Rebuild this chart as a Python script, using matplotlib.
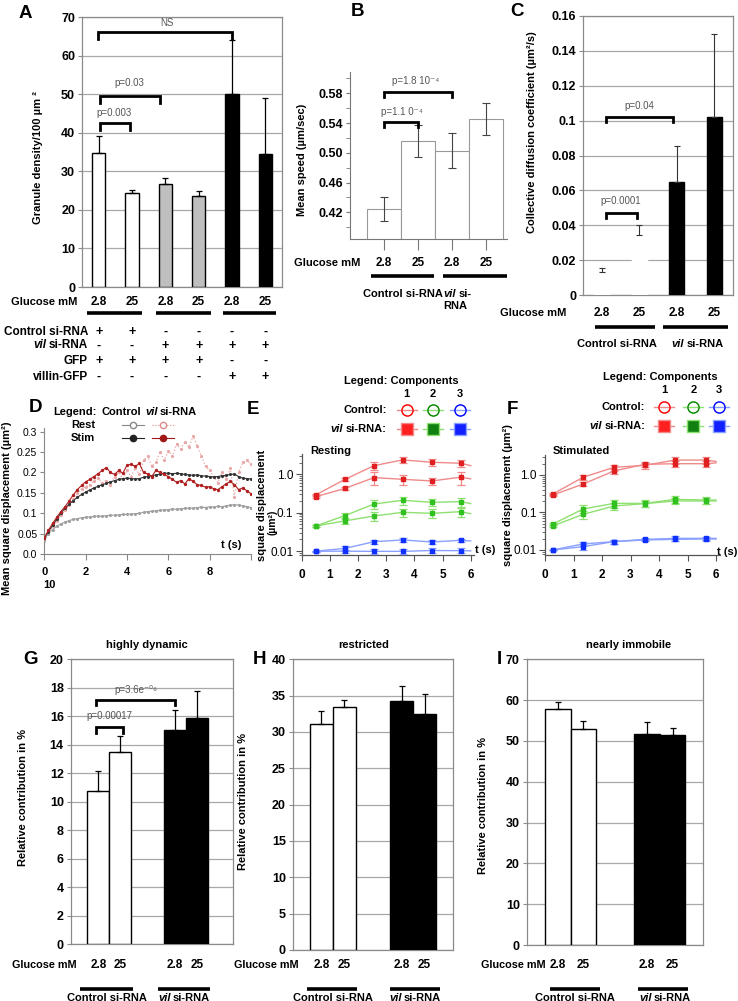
import matplotlib
matplotlib.use('Agg')
import matplotlib.pyplot as plt
import numpy as np
from matplotlib.lines import Line2D
from matplotlib.transforms import blended_transform_factory

plt.rcParams['font.family'] = ['Liberation Sans', 'DejaVu Sans']

W, H = 738, 1001

# ---------------- data ----------------
# A: granule density
a_vals = [34.8, 24.5, 26.6, 23.5, 50.1, 34.4]
a_err = [4.4, 0.7, 1.7, 1.5, 14.0, 14.6]
a_colors = ['white', 'white', '#bfbfbf', '#bfbfbf', 'black', 'black']
a_gluc = ['2.8', '25', '2.8', '25', '2.8', '25']
a_rows = ['Control si-RNA', 'vil si-RNA', 'GFP', 'villin-GFP']
a_signs = [['+', '+', '-', '-', '-', '-'],
           ['-', '-', '+', '+', '+', '+'],
           ['+', '+', '+', '+', '-', '-'],
           ['-', '-', '-', '-', '+', '+']]

# B: mean speed
b_vals = [0.4244, 0.516, 0.503, 0.5454]
b_err = [0.0165, 0.022, 0.0235, 0.0218]
b_gluc = ['2.8', '25', '2.8', '25']

# C: collective diffusion coefficient
c_vals = [0.0134, 0.0344, 0.065, 0.1019]
c_err = [0.0019, 0.0057, 0.0205, 0.0476]
c_colors = ['white', 'white', 'black', 'black']
c_gluc = ['2.8', '25', '2.8', '25']

# D: mean square displacement vs time
t_d = np.arange(0, 10.01, 0.2)
d_ctrl_rest = [0.035, 0.05, 0.06, 0.068, 0.074, 0.078, 0.082, 0.085, 0.087, 0.089,
               0.09, 0.091, 0.092, 0.093, 0.093, 0.094, 0.095, 0.095, 0.096, 0.097,
               0.097, 0.098, 0.099, 0.1, 0.102, 0.104, 0.105, 0.106, 0.107, 0.108,
               0.109, 0.11, 0.11, 0.111, 0.112, 0.113, 0.112, 0.114, 0.115, 0.114,
               0.116, 0.115, 0.117, 0.116, 0.118, 0.12, 0.121, 0.12, 0.118, 0.116, 0.114]
d_ctrl_stim = [0.04, 0.055, 0.07, 0.085, 0.1, 0.112, 0.122, 0.131, 0.139, 0.146,
               0.152, 0.157, 0.162, 0.166, 0.17, 0.173, 0.177, 0.18, 0.183, 0.185,
               0.186, 0.185, 0.184, 0.185, 0.188, 0.19, 0.192, 0.194, 0.196, 0.198,
               0.198, 0.197, 0.198, 0.197, 0.195, 0.194, 0.193, 0.194, 0.192, 0.191,
               0.19, 0.189, 0.19, 0.192, 0.193, 0.195, 0.196, 0.19, 0.186, 0.185, 0.184]
d_vil_stim = [0.04, 0.058, 0.075, 0.09, 0.104, 0.116, 0.13, 0.145, 0.158, 0.168,
              0.177, 0.183, 0.19, 0.197, 0.205, 0.212, 0.2, 0.195, 0.205, 0.198,
              0.218, 0.22, 0.215, 0.222, 0.2, 0.196, 0.19, 0.205, 0.2, 0.195,
              0.19, 0.183, 0.176, 0.18, 0.172, 0.185, 0.178, 0.17, 0.168, 0.164,
              0.165, 0.16, 0.158, 0.165, 0.172, 0.178, 0.17, 0.158, 0.162, 0.155, 0.148]
d_vil_rest = [0.033, 0.05, 0.068, 0.082, 0.095, 0.108, 0.12, 0.135, 0.15, 0.16,
              0.165, 0.17, 0.18, 0.186, 0.175, 0.18, 0.17, 0.19, 0.2, 0.185,
              0.205, 0.19, 0.21, 0.195, 0.23, 0.24, 0.215, 0.225, 0.25, 0.23,
              0.252, 0.24, 0.27, 0.258, 0.275, 0.262, 0.29, 0.265, 0.24, 0.215,
              0.205, 0.19, 0.175, 0.2, 0.185, 0.21, 0.14, 0.2, 0.225, 0.23, 0.22]

# E: resting components (control / vil si-RNA), last value = line end at t=6
e_t = [0.5, 1.54, 2.57, 3.59, 4.62, 5.64, 6.0]
e_red_a = [0.29, 0.74, 1.68, 2.37, 2.06, 1.94, 1.68]
e_red_b = [0.26, 0.43, 0.82, 0.74, 0.67, 0.84, 0.76]
e_grn_a = [0.045, 0.084, 0.168, 0.21, 0.186, 0.194, 0.172]
e_grn_b = [0.045, 0.061, 0.082, 0.102, 0.096, 0.106, 0.094]
e_blu_a = [0.0099, 0.0117, 0.0175, 0.0194, 0.0172, 0.019, 0.0183]
e_blu_b = [0.0099, 0.0099, 0.0098, 0.0098, 0.0103, 0.0102, 0.0101]
e_red_a_err = [0.02, 0.08, 0.35, 0.45, 0.45, 0.4]
e_red_b_err = [0.02, 0.05, 0.3, 0.2, 0.15, 0.3]
e_grn_a_err = [0.003, 0.015, 0.04, 0.05, 0.04, 0.05]
e_grn_b_err = [0.003, 0.01, 0.02, 0.025, 0.025, 0.03]
e_blu_a_err = [0.0004, 0.0015, 0.002, 0.002, 0.002, 0.002]
e_blu_b_err = [0.0004, 0.0008, 0.0015, 0.0015, 0.0015, 0.0015]

# F: stimulated components
f_t = [0.27, 1.34, 2.42, 3.5, 4.56, 5.64, 6.0]
f_red_a = [0.31, 0.87, 1.6, 1.8, 2.5, 2.5, 2.3]
f_red_b = [0.29, 0.575, 1.28, 1.92, 2.0, 2.0, 2.1]
f_grn_a = [0.049, 0.124, 0.175, 0.175, 0.224, 0.215, 0.215]
f_grn_b = [0.0437, 0.089, 0.149, 0.172, 0.203, 0.203, 0.203]
f_blu_a = [0.01, 0.0145, 0.0167, 0.0192, 0.0204, 0.0204, 0.0204]
f_blu_b = [0.01, 0.0123, 0.0167, 0.0185, 0.0192, 0.0197, 0.0197]
f_red_a_err = [0.02, 0.15, 0.3, 0.35, 0.5, 0.5]
f_red_b_err = [0.02, 0.06, 0.2, 0.3, 0.4, 0.4]
f_grn_a_err = [0.004, 0.03, 0.04, 0.035, 0.045, 0.045]
f_grn_b_err = [0.003, 0.02, 0.03, 0.03, 0.035, 0.035]
f_blu_a_err = [0.0003, 0.002, 0.002, 0.002, 0.0025, 0.002]
f_blu_b_err = [0.0003, 0.002, 0.002, 0.0015, 0.002, 0.002]

# G, H, I: relative contribution of mobility classes
ghi_pos = [0, 1, 3.5, 4.5]
ghi_colors = ['white', 'white', 'black', 'black']
ghi_gluc = ['2.8', '25', '2.8', '25']
g_vals = [10.77, 13.52, 15.04, 15.91]
g_err = [1.41, 1.12, 1.41, 1.87]
h_vals = [31.1, 33.39, 34.27, 32.48]
h_err = [1.84, 1.01, 2.06, 2.7]
i_vals = [57.83, 52.85, 51.7, 51.55]
i_err = [1.77, 2.05, 2.9, 1.72]

# ---------------- helpers ----------------
fig = plt.figure(figsize=(W / 100, H / 100), dpi=100)
renderer = fig.canvas.get_renderer()


def px_ax(x0, y0, x1, y1):
    return fig.add_axes([x0 / W, 1 - y1 / H, (x1 - x0) / W, (y1 - y0) / H])


def ftext(x, y, s, **kw):
    kw.setdefault('va', 'center')
    return fig.text(x / W, 1 - y / H, s, **kw)


def fline(x0, x1, y, lw=2.6):
    fig.add_artist(Line2D([x0 / W, x1 / W], [1 - y / H, 1 - y / H], transform=fig.transFigure,
                          color='k', lw=lw, solid_capstyle='butt'))


def rich(x, y, parts, ha='left', size=8, gap=2.5):
    objs = [ftext(0, y, s, fontsize=size, fontweight='bold', fontstyle=st, ha='left') for s, st in parts]
    widths = [o.get_window_extent(renderer).width for o in objs]
    total = sum(widths) + gap * (len(objs) - 1)
    x0 = x - {'left': 0, 'center': total / 2, 'right': total}[ha]
    for o, w in zip(objs, widths):
        o.set_x(x0 / W)
        x0 += w + gap


def vil(x, y, ha='center', size=8, tail=' si-RNA'):
    rich(x, y, [('vil', 'italic'), (tail.strip(), 'normal')], ha=ha, size=size)


def under(ax, xs, labels, y, size=8.5):
    tr = blended_transform_factory(ax.transData, fig.transFigure)
    for x, s in zip(xs, labels):
        ax.text(x, 1 - y / H, s, transform=tr, ha='center', va='center',
                fontsize=size, fontweight='bold')


def bracket(ax, x0, x1, y, drop, label, ty, tx, color='#555555', size=7):
    ax.plot([x0, x0, x1, x1], [y - drop, y, y, y - drop], color='k', lw=2.0,
            solid_joinstyle='miter', clip_on=False, zorder=5)
    ax.text(tx, ty, label, ha='center', va='center', fontsize=size, color=color, zorder=6)


def excel_axes(ax, ylim, step, fmt, xlim, tsize=9):
    ax.set_axisbelow(True)
    ax.yaxis.grid(True, color='#a8a8a8', lw=0.9)
    ax.set_ylim(*ylim)
    ax.set_xlim(*xlim)
    ticks = np.arange(ylim[0], ylim[1] + step / 2, step)
    ax.set_yticks(ticks)
    ax.set_yticklabels([fmt(v) for v in ticks], fontsize=tsize, fontweight='bold')
    ax.set_xticks([])
    for sp in ax.spines.values():
        sp.set_color('#8a8a8a')
        sp.set_linewidth(0.9)
    ax.tick_params(axis='y', length=3, width=0.8, color='#8a8a8a', pad=2)


def ylab(x, y, s, size=8):
    ftext(x, y, s, rotation=90, ha='center', fontsize=size, fontweight='bold')


# ---------------- A ----------------
ax = px_ax(82, 17, 282, 287)
xa = np.arange(len(a_vals))
excel_axes(ax, (0, 70), 10, lambda v: '%d' % v, (-0.5, 5.5))
ax.bar(xa, a_vals, 0.4, color=a_colors, edgecolor='k', lw=1, zorder=3)
ax.errorbar(xa, a_vals, yerr=[np.zeros(6), a_err], fmt='none', ecolor='k',
            elinewidth=0.9, capsize=2.5, capthick=0.9, zorder=4)
bracket(ax, 0.03, 0.94, 42.6, 2.0, 'p=0.003', 45.1, 0.46)
bracket(ax, 0.03, 1.85, 49.5, 1.8, 'p=0.03', 52.9, 0.92)
bracket(ax, -0.02, 4.0, 66.1, 1.8, 'NS', 68.4, 2.06)
under(ax, xa, a_gluc, 302)
tr = blended_transform_factory(ax.transData, fig.transFigure)
row_y = [332, 345.5, 361, 377]
for r, (lab, signs) in enumerate(zip(a_rows, a_signs)):
    if lab.startswith('vil '):
        vil(88, row_y[r], ha='right', size=8.5)
    else:
        ftext(88, row_y[r], lab, ha='right', fontsize=8.5, fontweight='bold')
    for x, s in zip(xa, signs):
        ax.text(x, 1 - row_y[r] / H, s, transform=tr, ha='center', va='center',
                fontsize=9, fontweight='bold')
ftext(77, 302, 'Glucose mM', ha='right', fontsize=8, fontweight='bold')
for x0, x1 in [(87.3, 141.7), (156, 210.7), (222.7, 275.7)]:
    fline(x0, x1, 313)
ylab(38, 158, 'Granule density/100 µm ²')
ftext(25, 13, 'A', ha='center', fontsize=13.5, fontweight='bold')

# ---------------- B ----------------
ax = px_ax(350, 71.7, 506.7, 239.3)
xb = np.arange(len(b_vals))
ax.bar(xb, b_vals, 1.0, color='white', edgecolor='#999999', lw=0.8, zorder=2)
ax.errorbar(xb, b_vals, yerr=b_err, fmt='none', ecolor='#444444', elinewidth=0.8,
            capsize=3, capthick=0.8, zorder=3)
ax.set_xlim(-0.99, 3.6)
ax.set_ylim(0.3837, 0.609)
ax.set_yticks([0.42, 0.46, 0.50, 0.54, 0.58])
ax.set_yticklabels(['0.42', '0.46', '0.50', '0.54', '0.58'], fontsize=9, fontweight='bold')
ax.set_yticks([0.40, 0.44, 0.48, 0.52, 0.56, 0.60], minor=True)
ax.set_xticks(xb)
ax.set_xticklabels([])
for s in ['top', 'right']:
    ax.spines[s].set_visible(False)
for s in ['left', 'bottom']:
    ax.spines[s].set_color('#777777')
    ax.spines[s].set_linewidth(0.8)
ax.tick_params(axis='y', which='both', length=3, color='#777777', pad=2)
ax.tick_params(axis='x', length=8, color='#777777', direction='out')
bracket(ax, 0, 1, 0.5418, 0.0067, 'p=1.1 0⁻⁴', 0.5553, 0.52)
bracket(ax, 0, 2, 0.5822, 0.0068, 'p=1.8 10⁻⁴', 0.5965, 0.93)
under(ax, xb, b_gluc, 263)
ftext(360, 263, 'Glucose mM', ha='right', fontsize=8, fontweight='bold')
fline(371, 434.3, 276)
fline(443.3, 506.7, 276)
ftext(403.3, 294, 'Control si-RNA', ha='center', fontsize=8, fontweight='bold')
vil(443.3, 294, ha='left', tail='si-')
ftext(443.3, 306, 'RNA', ha='left', fontsize=8, fontweight='bold')
ylab(301.7, 160, 'Mean speed (µm/sec)')
ftext(358, 12, 'B', ha='center', fontsize=13.5, fontweight='bold')

# ---------------- C ----------------
ax = px_ax(583, 16, 733, 295)
xc = np.arange(len(c_vals))
excel_axes(ax, (0, 0.16), 0.02, lambda v: ('%.2f' % v).rstrip('0').rstrip('.') if v else '0',
           (-0.5, 3.5))
ax.bar(xc, c_vals, 0.4, color=c_colors, edgecolor=c_colors, lw=1, zorder=3)
ax.errorbar(xc, c_vals, yerr=[np.zeros(4), c_err], fmt='none', ecolor='#333333',
            elinewidth=0.8, capsize=2.5, capthick=0.8, zorder=4)
bracket(ax, 0.1, 0.93, 0.0468, 0.0028, 'p=0.0001', 0.0539, 0.5)
bracket(ax, 0.1, 1.9, 0.1023, 0.0029, 'p=0.04', 0.1084, 0.99)
under(ax, xc, c_gluc, 313)
ftext(566.7, 313, 'Glucose mM', ha='right', fontsize=8, fontweight='bold')
fline(595, 655, 326.7)
fline(663.3, 728.3, 326.7)
ftext(617, 344, 'Control si-RNA', ha='center', fontsize=8, fontweight='bold')
vil(697.5, 344)
ylab(531.7, 132, 'Collective diffusion coefficient (µm²/s)')
ftext(517, 11, 'C', ha='center', fontsize=13.5, fontweight='bold')

# ---------------- D ----------------
ax = px_ax(44.3, 427.6, 251, 554)
ax.plot(t_d, d_vil_rest, ls=':', color='#e8a6a6', lw=0.9, marker='.', ms=2.5, zorder=2)
ax.plot(t_d, d_ctrl_rest, color='#a0a0a0', lw=0.8, marker='.', ms=2.5, zorder=3)
ax.plot(t_d, d_ctrl_stim, color='#333333', lw=0.8, marker='.', ms=2.5, zorder=4)
ax.plot(t_d, d_vil_stim, color='#b02020', lw=0.8, marker='.', ms=2.8, zorder=5)
ax.set_xlim(0, 10)
ax.set_ylim(0, 0.31)
ax.set_yticks([0, 0.05, 0.1, 0.15, 0.2, 0.25, 0.3])
ax.set_yticklabels(['0.0', '0.05', '0.1', '0.15', '0.2', '0.25', '0.3'], fontsize=7.5)
ax.set_xticks([0, 2, 4, 6, 8, 10])
ax.set_xticklabels(['0', '2', '4', '6', '8', ''], fontsize=8, fontweight='bold')
for s in ['top', 'right']:
    ax.spines[s].set_visible(False)
for s in ['left', 'bottom']:
    ax.spines[s].set_color('#888888')
ax.tick_params(axis='y', length=3, color='#888888', pad=2)
ax.tick_params(axis='x', length=4.3, color='#888888', pad=5)
ftext(231, 545, 't (s)', ha='center', fontsize=8, fontweight='bold')
ftext(43, 585, '10', ha='left', fontsize=8, fontweight='bold')
ylab(7, 508, 'Mean square displacement (µm²)')
ftext(53, 412, 'Legend:', ha='left', fontsize=8, fontweight='bold')
ftext(101.7, 412, 'Control', ha='left', fontsize=8, fontweight='bold')
vil(145, 412, ha='left')
ftext(95, 425, 'Rest', ha='right', fontsize=8, fontweight='bold')
ftext(95, 438.3, 'Stim', ha='right', fontsize=8, fontweight='bold')


def fmark(xc, y, half, color, marker, mfc, ls='-', ms=4.5, lw=0.8):
    fig.add_artist(Line2D([(xc - half) / W, xc / W, (xc + half) / W], [1 - y / H] * 3,
                          transform=fig.transFigure, color=color, ls=ls, lw=lw,
                          marker=marker, markevery=[1], mfc=mfc, mec=color, ms=ms))


fmark(132.7, 425, 11, '#888888', 'o', 'white')
fmark(162.7, 425, 11, '#e08a8a', 'o', 'white', ls=':')
fmark(132.7, 438.3, 11, '#222222', 'o', '#222222')
fmark(162.7, 438.3, 11, '#a01818', 'o', '#a01818')
ftext(35, 408, 'D', ha='center', fontsize=13.5, fontweight='bold')

# ---------------- E, F ----------------
comp_line = ['#f08a8a', '#8ee070', '#8aa0ff']
comp_mark = ['#e02020', '#30c020', '#1030ff']
comp_legend = ['red', 'green', 'blue']
legend_face = ['#ff2020', '#108010', '#1020ff']


def comp_panel(ax, t, series, errs):
    for k, (vals, err) in enumerate(zip(series, errs)):
        c = k // 2
        ax.plot(t, vals, color=comp_line[c], lw=1.0, zorder=2)
        ax.errorbar(t[:6], vals[:6], yerr=err, fmt='s', ms=2.2, color=comp_mark[c],
                    ecolor=comp_line[c], elinewidth=0.9, capsize=3, capthick=0.9, zorder=3)
    ax.set_yscale('log')
    ax.set_xlim(0, 6.1)
    ax.set_xticks(range(7))
    ax.set_xticklabels([str(v) for v in range(7)], fontsize=8.5, fontweight='bold')
    ax.set_yticks([0.01, 0.1, 1.0])
    ax.set_yticklabels(['0.01', '0.1', '1.0'], fontsize=8.5)
    for s in ['top', 'right']:
        ax.spines[s].set_visible(False)
    for s in ['left', 'bottom']:
        ax.spines[s].set_color('#555555')
        ax.spines[s].set_linewidth(0.9)
    ax.tick_params(axis='y', which='major', length=4, color='#555555', pad=2)
    ax.tick_params(axis='y', which='minor', length=2, color='#555555')
    ax.tick_params(axis='x', length=4, color='#555555', pad=6)


def comp_legend_draw(xcenter, y0, xs, xr):
    ftext(xcenter, y0, 'Legend: Components', ha='center', fontsize=8, fontweight='bold')
    for n, x in enumerate(xs):
        ftext(x, y0 + 13, str(n + 1), ha='center', fontsize=8, fontweight='bold')
        fmark(x, y0 + 29.5, 10, comp_line[n], 'o', 'none', ms=8, lw=1.0)
        fig.add_artist(Line2D([x / W], [1 - (y0 + 29.5) / H], transform=fig.transFigure,
                              marker='o', ms=8, mfc='none', mec=comp_legend[n], mew=0.9))
        fmark(x, y0 + 48.5, 10, comp_line[n], 's', legend_face[n], ms=8, lw=1.0)
    ftext(xr, y0 + 29.5, 'Control:', ha='right', fontsize=8, fontweight='bold')
    rich(xr, y0 + 48.5, [('vil', 'italic'), ('si-RNA:', 'normal')], ha='right', size=8)


ax = px_ax(301.7, 454, 473.5, 555)
comp_panel(ax, e_t, [e_red_a, e_red_b, e_grn_a, e_grn_b, e_blu_a, e_blu_b],
           [e_red_a_err, e_red_b_err, e_grn_a_err, e_grn_b_err, e_blu_a_err, e_blu_b_err])
ax.set_ylim(0.00787, 3.38)
ftext(310, 451, 'Resting', ha='left', fontsize=8, fontweight='bold')
ftext(475, 550, 't (s)', ha='left', fontsize=8, fontweight='bold')
ylab(261.7, 505, 'square displacement')
ylab(272, 522, '(µm²)', size=7.5)
comp_legend_draw(401.7, 380.7, [406.7, 432.7, 460], 386.7)
ftext(253, 410, 'E', ha='center', fontsize=13.5, fontweight='bold')

ax = px_ax(545, 455, 720, 555)
comp_panel(ax, f_t, [f_red_a, f_red_b, f_grn_a, f_grn_b, f_blu_a, f_blu_b],
           [f_red_a_err, f_red_b_err, f_grn_a_err, f_grn_b_err, f_blu_a_err, f_blu_b_err])
ax.set_xlim(0, 6.14)
ax.set_ylim(0.00735, 3.41)
ftext(553, 451, 'Stimulated', ha='left', fontsize=8, fontweight='bold')
ftext(717.3, 551.7, 't (s)', ha='left', fontsize=8, fontweight='bold')
ylab(508.3, 495, 'square displacement (µm²)')
comp_legend_draw(660, 377.3, [664.3, 693.3, 719.3], 645)
ftext(512, 410, 'F', ha='center', fontsize=13.5, fontweight='bold')

# ---------------- G, H, I ----------------
ghi = [
    ('G', (70.7, 659.3, 233.3, 944.3), (-1.26, 6.15), g_vals, g_err, (0, 20), 2,
     'highly dynamic', 146.7, 76.7, [(80, 132.7), (158.3, 210)], [106.7, 184], 23.3, 798, 30),
    ('H', (292.7, 659.3, 453.3, 950), (-1.25, 5.75), h_vals, h_err, (0, 40), 5,
     'restricted', 363.3, 299, [(306.7, 356.7), (390, 440)], [333, 415], 243, 802, 260),
    ('I', (526.7, 659.3, 702.7, 945), (-1.22, 5.68), i_vals, i_err, (0, 70), 10,
     'nearly immobile', 628.3, 546, [(550, 600), (638.3, 688.3)], [575, 665], 482.7, 806, 499),
]
for (letter, box, xlim, vals, err, ylim, step, title, tx, gx, lines, labx,
     ylx, yly, lx) in ghi:
    ax = px_ax(*box)
    excel_axes(ax, ylim, step, lambda v: '%d' % v, xlim)
    ax.bar(ghi_pos, vals, 1.0, color=ghi_colors, edgecolor='k', lw=1, zorder=3)
    ax.errorbar(ghi_pos, vals, yerr=[np.zeros(4), err], fmt='none', ecolor='k',
                elinewidth=0.9, capsize=2.5, capthick=0.9, zorder=4)
    if letter == 'G':
        bracket(ax, -0.12, 1.14, 15.23, 0.38, 'p=0.00017', 16.02, 0.52)
        bracket(ax, -0.12, 3.5, 17.15, 0.35, 'p=3.6e⁻⁰⁶', 17.85, 1.72)
    under(ax, ghi_pos, ghi_gluc, 965)
    ftext(gx, 965, 'Glucose mM', ha='right', fontsize=7.8, fontweight='bold')
    for x0, x1 in lines:
        fline(x0, x1, 988.5)
    ftext(labx[0], 998, 'Control si-RNA', ha='center', fontsize=8, fontweight='bold')
    vil(labx[1], 998)
    ftext(tx, 645, title, ha='center', fontsize=8, fontweight='bold')
    ylab(ylx, yly, 'Relative contribution in %')
    ftext(lx, 660, letter, ha='center', fontsize=13.5, fontweight='bold')

fig.savefig('out.png', dpi=100)
